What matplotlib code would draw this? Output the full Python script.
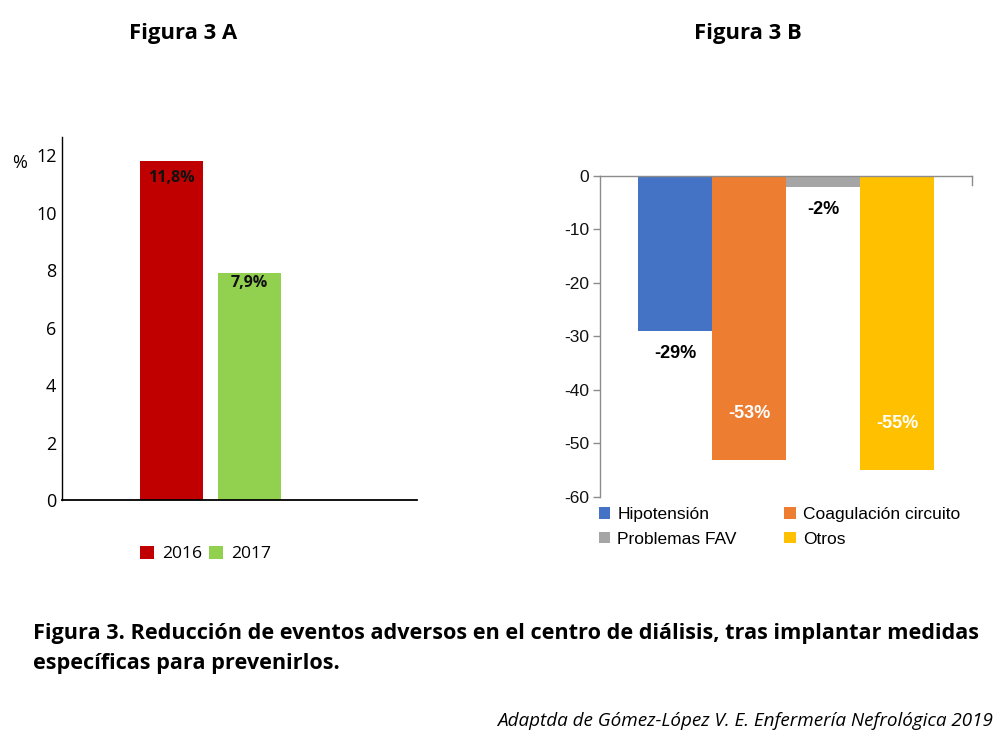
import matplotlib

matplotlib.use("Agg")
import matplotlib.pyplot as plt

# Figura 3 A
years = ["2016", "2017"]
pct_events = [11.8, 7.9]
pct_labels = ["11,8%", "7,9%"]
left_yticks = [0, 2, 4, 6, 8, 10, 12]

# Figura 3 B
categories = ["Hipotensión", "Coagulación circuito", "Problemas FAV", "Otros"]
reduction = [-29, -53, -2, -55]
reduction_labels = ["-29%", "-53%", "-2%", "-55%"]
right_yticks = [0, -10, -20, -30, -40, -50, -60]

OPEN = "Open Sans"
ARIAL = "Liberation Sans"


def main():
    fig = plt.figure(figsize=(10.03, 7.5), dpi=100)
    W, H = 1003, 750

    # ---------- A ----------
    axA = fig.add_axes([62 / W, 1 - 500 / H, 355 / W, 363 / H])
    colsA = ["#C00000", "#92D050"]
    barsA = axA.bar(range(len(years)), pct_events, width=0.808, color=colsA, label=years)
    axA.set_xlim(-1.404, 3.147)
    axA.set_ylim(0, 12.63)
    axA.set_yticks(left_yticks)
    axA.set_yticklabels([str(v) for v in left_yticks], fontfamily=OPEN, fontsize=13)
    axA.tick_params(axis="y", length=0, pad=4)
    axA.set_xticks([])
    for s in ("top", "right"):
        axA.spines[s].set_visible(False)
    axA.spines["left"].set_linewidth(1.0)
    axA.spines["bottom"].set_linewidth(1.3)
    offsA = [-17, -10]
    for b, v, lab, off in zip(barsA, pct_events, pct_labels, offsA):
        axA.annotate(lab, (b.get_x() + b.get_width() / 2, v), xytext=(0, off),
                     textcoords="offset pixels", ha="center", va="center",
                     fontfamily=OPEN, fontweight="bold", fontsize=11.5, color="#111111")
    fig.text(12 / W, 1 - 163 / H, "%", fontfamily=OPEN, fontsize=13, ha="left", va="center")
    fig.legend(handles=list(barsA), labels=years, ncol=2, frameon=False,
               loc="center left", bbox_to_anchor=(140 / W, 1 - 554 / H),
               prop={"family": OPEN, "size": 12.6}, handlelength=0.8, handleheight=0.8,
               handletextpad=0.45, columnspacing=0.4, borderpad=0, borderaxespad=0)

    # ---------- B ----------
    axB = fig.add_axes([600 / W, 1 - 497 / H, 372 / W, 321 / H])
    colsB = ["#4472C4", "#ED7D31", "#A5A5A5", "#FFC000"]
    barsB = axB.bar(range(len(categories)), reduction, width=1.0, color=colsB)
    axB.set_xlim(-1.014, 4.014)
    axB.set_ylim(-60, 0)
    axB.set_yticks(right_yticks)
    axB.set_yticklabels([str(v) for v in right_yticks], fontfamily=ARIAL, fontsize=12.5)
    axB.tick_params(axis="y", length=5, color="#8c8c8c", width=1, pad=3, labelcolor="#111111")
    axB.set_xticks([])
    axB.spines["bottom"].set_visible(False)
    axB.spines["right"].set_bounds(-1.7, 0)
    for s in ("top", "left", "right"):
        axB.spines[s].set_color("#8c8c8c")
        axB.spines[s].set_linewidth(1.0)
    axB.set_zorder(1)
    for b, v, lab in zip(barsB, reduction, reduction_labels):
        inside = v < -40
        y = v + 8.7 if inside else v - 4.2
        axB.text(b.get_x() + b.get_width() / 2, y, lab, ha="center", va="center",
                 fontfamily=ARIAL, fontweight="bold", fontsize=13,
                 color="white" if inside else "black")
    order = [0, 2, 1, 3]
    fig.legend(handles=[barsB[i] for i in order], labels=[categories[i] for i in order],
               ncol=2, frameon=False, loc="upper left", bbox_to_anchor=(599 / W, 1 - 507 / H),
               prop={"family": ARIAL, "size": 12.5}, handlelength=0.65, handleheight=0.65,
               handletextpad=0.4, columnspacing=2.75, labelspacing=0.55, borderpad=0,
               borderaxespad=0)

    # ---------- textos ----------
    fig.text(183 / W, 1 - 33 / H, "Figura 3 A", ha="center", va="center",
             fontfamily=OPEN, fontweight="bold", fontsize=15.8)
    fig.text(748 / W, 1 - 33 / H, "Figura 3 B", ha="center", va="center",
             fontfamily=OPEN, fontweight="bold", fontsize=15.8)
    fig.text(33 / W, 1 - 633 / H,
             "Figura 3. Reducción de eventos adversos en el centro de diálisis, tras implantar medidas",
             ha="left", va="center", fontfamily=OPEN, fontweight="bold", fontsize=15.6)
    fig.text(33 / W, 1 - 663 / H, "específicas para prevenirlos.",
             ha="left", va="center", fontfamily=OPEN, fontweight="bold", fontsize=15.6)
    fig.text(993 / W, 1 - 721 / H, "Adaptda de Gómez-López V. E. Enfermería Nefrológica 2019",
             ha="right", va="center", fontfamily=OPEN, fontstyle="italic", fontsize=13.6)

    fig.savefig("out.png", dpi=100, facecolor="white")
    plt.close(fig)


if __name__ == "__main__":
    main()
